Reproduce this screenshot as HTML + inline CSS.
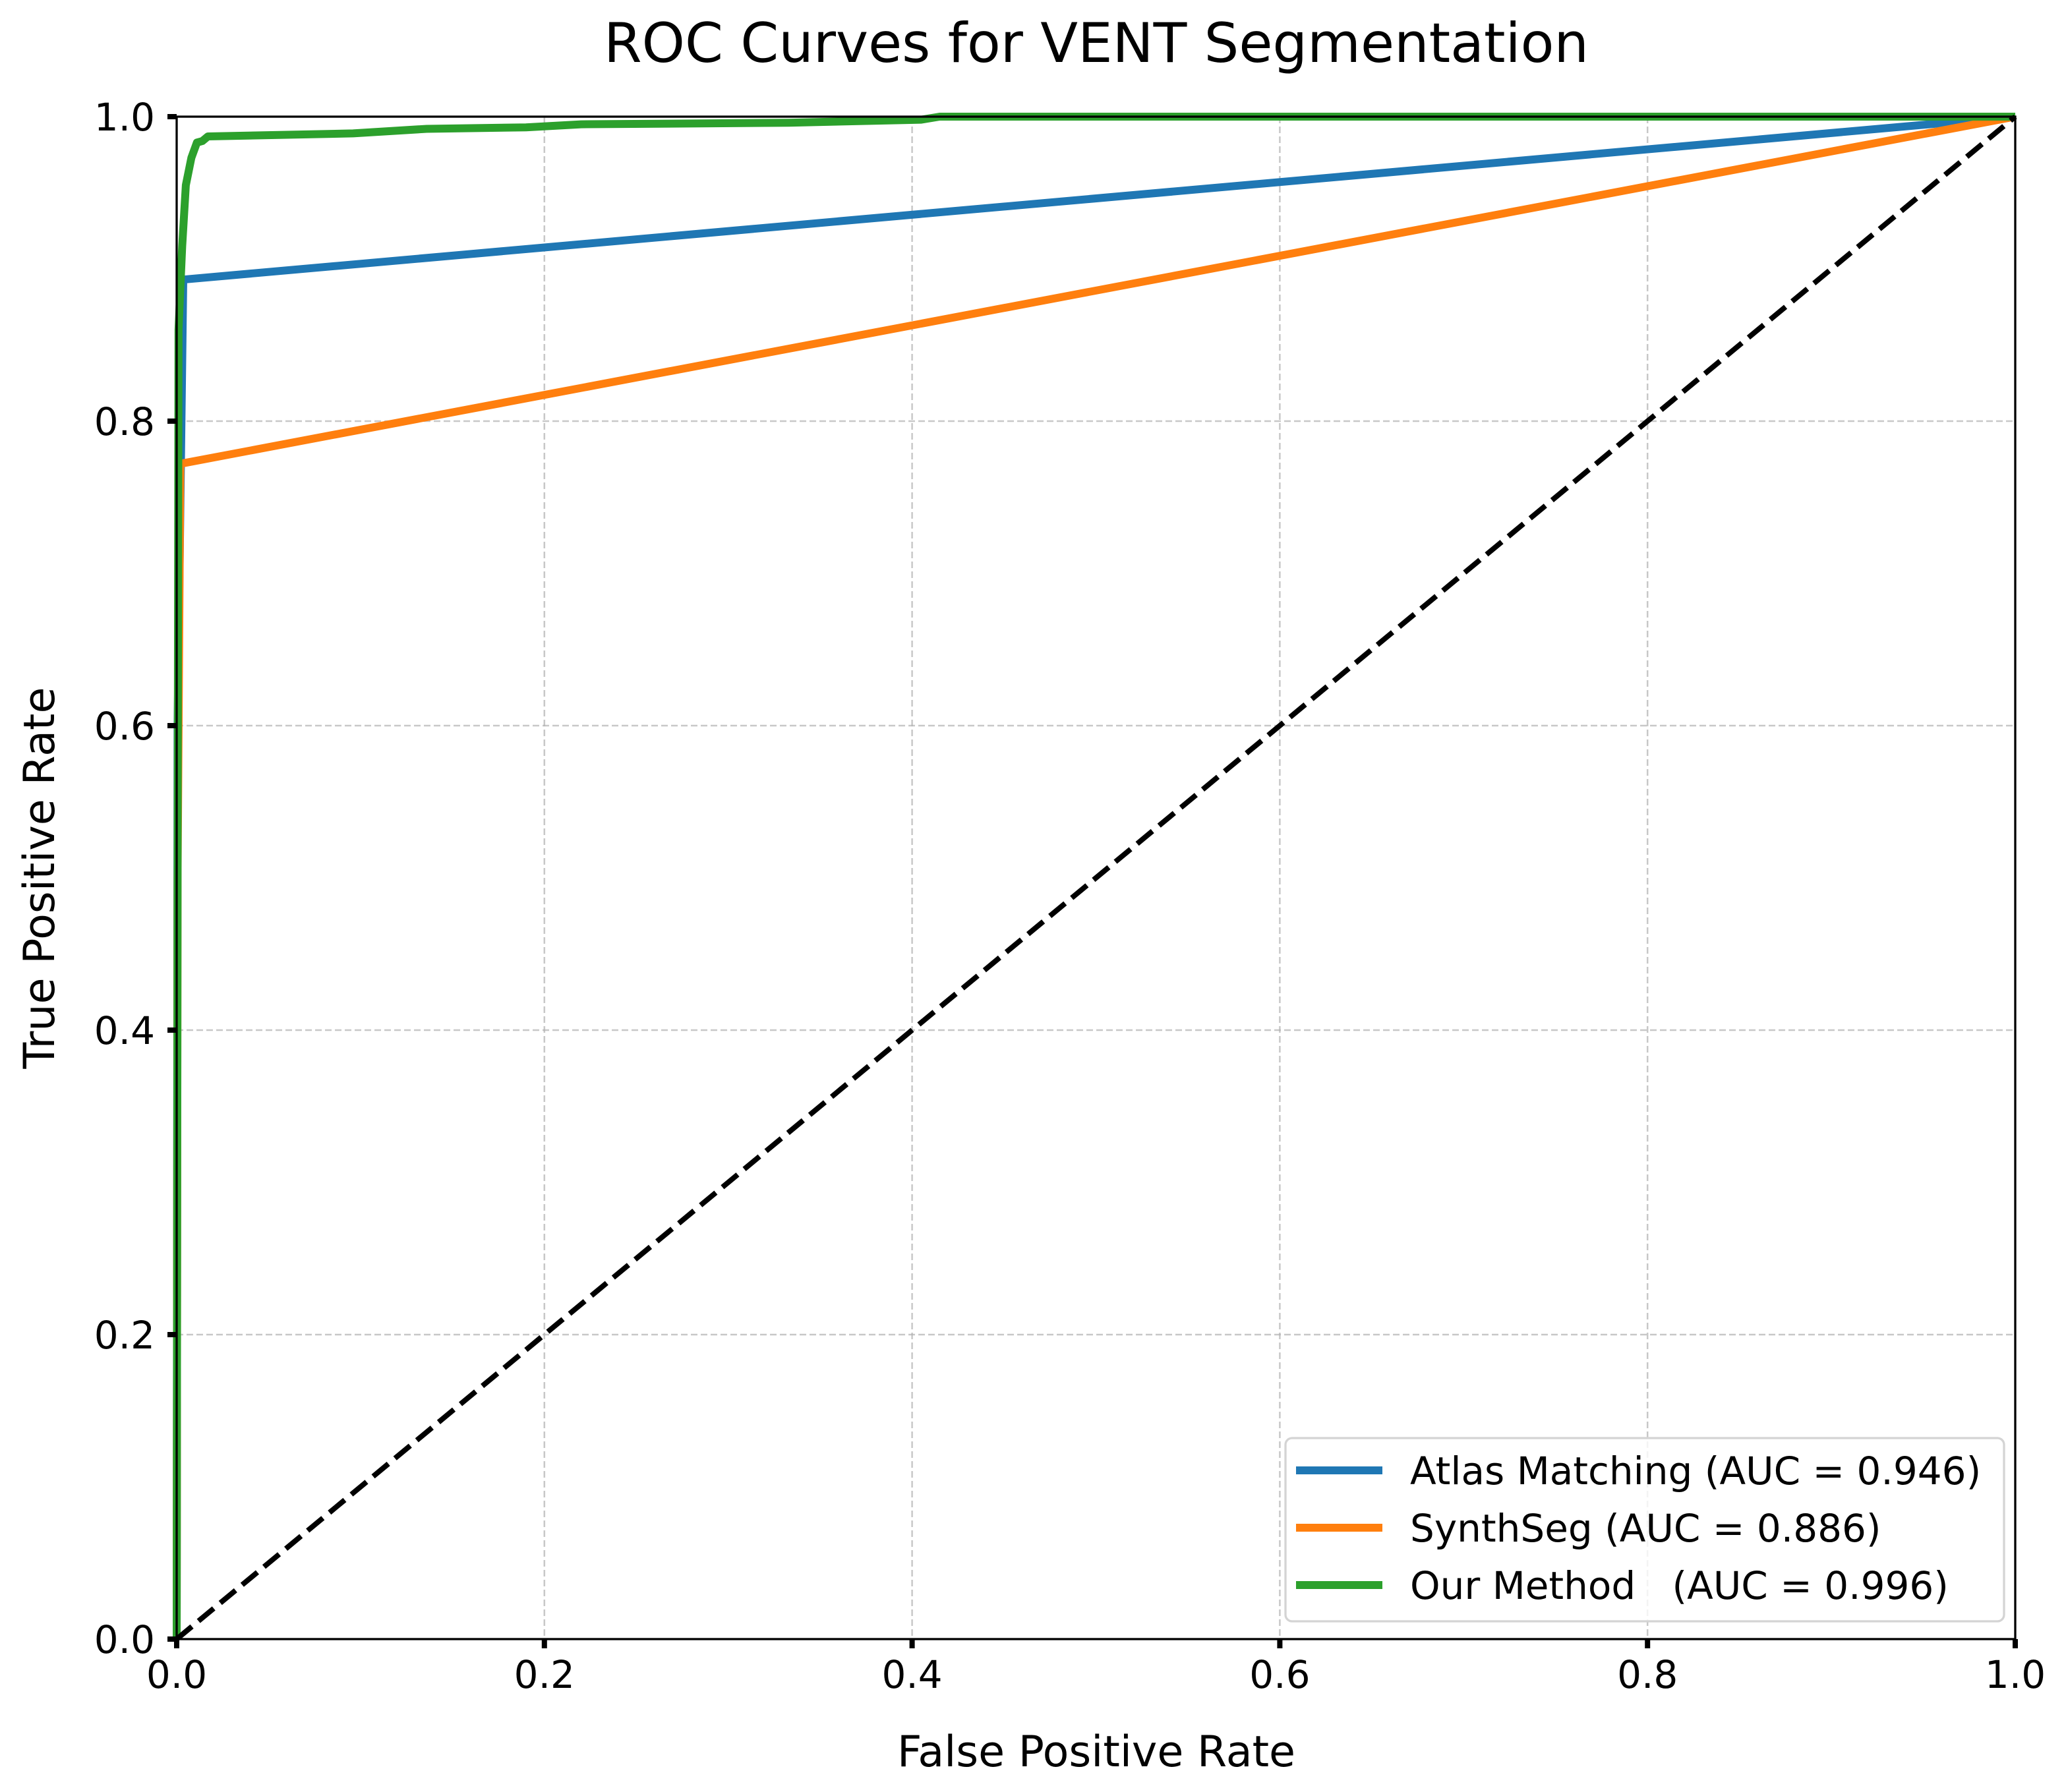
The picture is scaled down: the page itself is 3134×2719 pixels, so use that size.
<!DOCTYPE html>
<html><head><meta charset="utf-8"><style>
html,body{margin:0;padding:0;background:#fff}
svg{display:block;font-family:"DejaVu Sans","Liberation Sans",sans-serif}
</style></head><body>
<svg id="chart" width="3134" height="2719" viewBox="0 0 3134 2719" xmlns="http://www.w3.org/2000/svg">
<rect width="3134" height="2719" fill="#fff"/>
<text x="1663" y="94" font-size="83" text-anchor="middle">ROC Curves for VENT Segmentation</text>
<g id="grid"></g>
<g id="series"></g>
<rect x="268" y="177" width="2789" height="2310" fill="none" stroke="#000" stroke-width="3.3"/>
<g id="ticks"></g>
<text x="1663" y="2680" font-size="65" text-anchor="middle">False Positive Rate</text>
<text transform="translate(82,1332) rotate(-90)" font-size="65" text-anchor="middle">True Positive Rate</text>
<g>
<rect x="1950" y="2182" width="1090" height="278" rx="10" fill="#fff" fill-opacity="0.8" stroke="#d4d4d4" stroke-width="3.3"/>
<line x1="1966" y1="2231" x2="2097" y2="2231" stroke="#1f77b4" stroke-width="12"/>
<text x="2139" y="2252" font-size="58">Atlas Matching (AUC = 0.946)</text>
<line x1="1966" y1="2318" x2="2097" y2="2318" stroke="#ff7f0e" stroke-width="12"/>
<text x="2139" y="2339" font-size="58">SynthSeg (AUC = 0.886)</text>
<line x1="1966" y1="2405" x2="2097" y2="2405" stroke="#2ca02c" stroke-width="12"/>
<text x="2139" y="2426" font-size="58" xml:space="preserve">Our Method   (AUC = 0.996)</text>
</g>
</svg>
<script>
const ticks = [0, 0.2, 0.4, 0.6, 0.8, 1.0];
const tickLabels = ["0.0", "0.2", "0.4", "0.6", "0.8", "1.0"];
const atlasFpr = [0, 0.0005, 0.0036, 1];
const atlasTpr = [0, 0.6, 0.893, 1];
const synthFpr = [0, 0.0005, 0.002, 1];
const synthTpr = [0, 0.5, 0.772, 1];
const oursFpr = [0, 0.0005, 0.001, 0.003, 0.005, 0.008, 0.011, 0.014, 0.017, 0.096, 0.136, 0.19, 0.22, 0.333, 0.405, 0.415, 1];
const oursTpr = [0, 0.5, 0.86, 0.915, 0.955, 0.973, 0.983, 0.984, 0.987, 0.989, 0.992, 0.993, 0.995, 0.996, 0.998, 1, 1];
const chanceFpr = [0, 1];
const chanceTpr = [0, 1];

const L = 268, R = 3057, T = 177, B = 2487;
const NS = 'http://www.w3.org/2000/svg';
function sx(v) { return L + v * (R - L); }
function sy(v) { return B - v * (B - T); }
function mk(tag, attrs, parent) {
  const el = document.createElementNS(NS, tag);
  for (const k in attrs) el.setAttribute(k, attrs[k]);
  parent.appendChild(el);
  return el;
}
const grid = document.getElementById('grid');
const tk = document.getElementById('ticks');
ticks.forEach((t, i) => {
  const gv = mk('line', {x1: sx(t), x2: sx(t), y1: T, y2: B, stroke: '#b0b0b0', 'stroke-opacity': 0.7, 'stroke-width': 2.5, 'stroke-dasharray': '10 5'}, grid);
  
  
  const gh = mk('line', {x1: L, x2: R, y1: sy(t), y2: sy(t), stroke: '#b0b0b0', 'stroke-opacity': 0.7, 'stroke-width': 2.5, 'stroke-dasharray': '10 5'}, grid);
  
  
  const xt = mk('line', {x1: sx(t), x2: sx(t), y1: B, y2: B + 14, stroke: '#000', 'stroke-width': 8}, tk);
  
  
  const yt = mk('line', {x1: L - 14, x2: L, y1: sy(t), y2: sy(t), stroke: '#000', 'stroke-width': 8}, tk);
  
  
  const xl = mk('text', {x: sx(t), y: 2561, 'font-size': 58, 'text-anchor': 'middle'}, tk);
  xl.textContent = tickLabels[i];
  
  
  const yl = mk('text', {x: 235, y: sy(t) + 21, 'font-size': 58, 'text-anchor': 'end'}, tk);
  yl.textContent = tickLabels[i];
  
  
});
const ser = document.getElementById('series');
function path(xs, ys) { return xs.map((x, i) => (i ? 'L' : 'M') + sx(x).toFixed(1) + ' ' + sy(ys[i]).toFixed(1)).join(' '); }
const pa = mk('path', {d: path(atlasFpr, atlasTpr), fill: 'none', stroke: '#1f77b4', 'stroke-width': 12, 'stroke-linejoin': 'round'}, ser);


const ps = mk('path', {d: path(synthFpr, synthTpr), fill: 'none', stroke: '#ff7f0e', 'stroke-width': 12, 'stroke-linejoin': 'round'}, ser);


const po = mk('path', {d: path(oursFpr, oursTpr), fill: 'none', stroke: '#2ca02c', 'stroke-width': 12, 'stroke-linejoin': 'round'}, ser);


const pc = mk('path', {d: path(chanceFpr, chanceTpr), fill: 'none', stroke: '#000', 'stroke-width': 8, 'stroke-dasharray': '30 13'}, ser);


</script>
</body></html>
